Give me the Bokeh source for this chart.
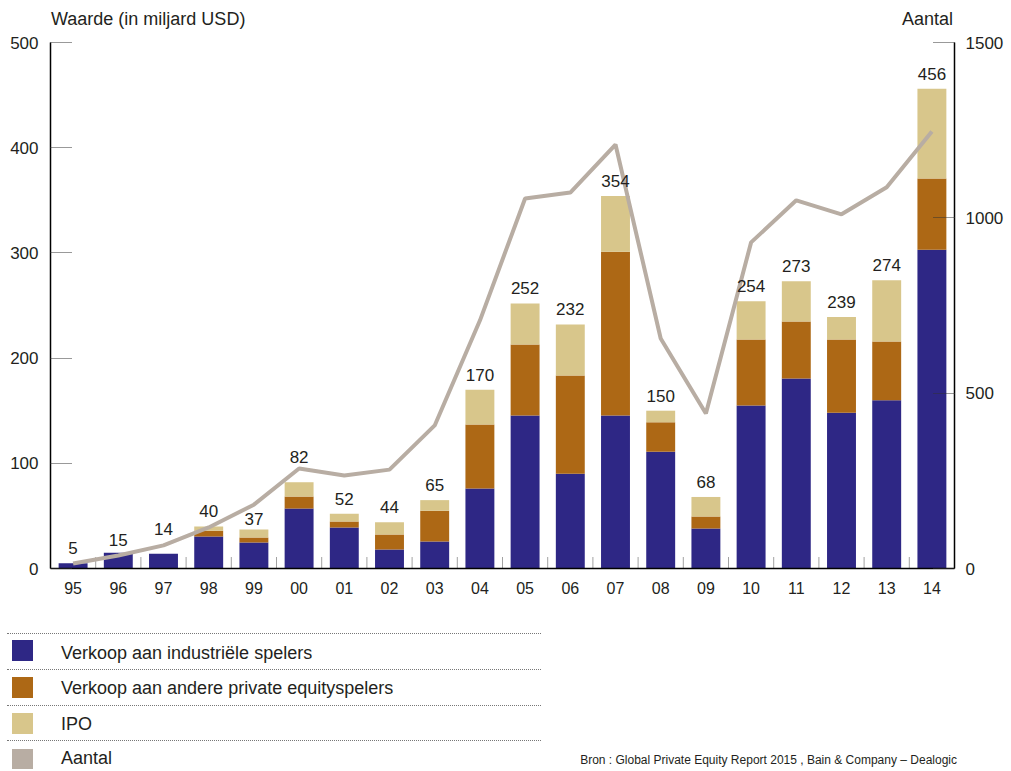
import numpy as np
from bokeh.plotting import figure
from bokeh.models import ColumnDataSource, Range1d, LinearAxis, FixedTicker, Div
from bokeh.layouts import column
from bokeh.embed import file_html
from bokeh.resources import INLINE
from bokeh.core.properties import value

# ---------------- data ----------------
years = ["95", "96", "97", "98", "99", "00", "01", "02", "03", "04",
         "05", "06", "07", "08", "09", "10", "11", "12", "13", "14"]
industrial = [5, 15, 14, 30.5, 24.7, 57, 39, 18, 25.7, 76,
              145.4, 90, 145.4, 111, 38, 155, 180.6, 148, 160, 303]
private_equity = [0, 0, 0, 5.5, 4.8, 11.4, 5.7, 14.3, 29.3, 61,
                  67.6, 93.5, 155.6, 28, 11.4, 62.7, 54.2, 69.7, 55.8, 67.7]
ipo = [0, 0, 0, 4, 7.5, 13.6, 7.3, 11.7, 10, 33,
       39, 48.5, 53, 11, 18.6, 36.3, 38.2, 21.3, 58.2, 85.3]
totals = [5, 15, 14, 40, 37, 82, 52, 44, 65, 170,
          252, 232, 354, 150, 68, 254, 273, 239, 274, 456]
count = [14, 37, 66, 117, 182, 285, 265, 282, 408, 707,
         1055, 1072, 1209, 656, 442, 930, 1050, 1010, 1087, 1246]

series_names = ["Verkoop aan industriële spelers",
                "Verkoop aan andere private equityspelers",
                "IPO", "Aantal"]
left_title = "Waarde (in miljard USD)"
right_title = "Aantal"
source_note = "Bron : Global Private Equity Report 2015 , Bain & Company \u2013 Dealogic"

# ---------------- styles ----------------
FONT = "Liberation Sans"
C_BLUE = "#2E2785"
C_BROWN = "#AD6815"
C_TAN = "#D8C68B"
C_LINE = "#B8ADA3"
C_TEXT = "#231F20"
label_nudge = {"96": 2, "97": -10, "99": 4, "00": -10}  # px adjustments of value labels

n = len(years)
xc = np.arange(n) + 0.5

src = ColumnDataSource(dict(
    x=xc, ind=industrial, pe=private_equity, ipo=ipo,
    tot=totals, lab=[str(t) for t in totals], cnt=count,
    dy=[-15 + label_nudge.get(y, 0) for y in years],
))

W = 1011

# ---------------- top titles ----------------
top = Div(width=W, height=34, margin=0, text=(
    f'<div style="position:relative;width:{W}px;height:34px;overflow:hidden;'
    f'font-family:\'{FONT}\';color:{C_TEXT};font-size:18px;line-height:22px;">'
    f'<span style="position:absolute;left:51px;top:8px;white-space:nowrap;">{left_title}</span>'
    f'<span style="position:absolute;right:58px;top:8px;white-space:nowrap;">{right_title}</span>'
    '</div>'))

# ---------------- main chart ----------------
p = figure(width=W, height=579, output_backend="svg", toolbar_location=None,
           x_range=Range1d(0, n), y_range=Range1d(0, 500),
           min_border_left=50, min_border_right=57, min_border_top=8,
           min_border_bottom=45, outline_line_color=None,
           background_fill_color="white", border_fill_color="white", margin=0)
p.extra_y_ranges = {"cnt": Range1d(0, 1500)}
p.grid.visible = False
p.xaxis.visible = False
p.yaxis.visible = False


def style_axis(ax, ticks, standoff):
    ax.ticker = FixedTicker(ticks=ticks)
    ax.axis_line_color = "black"
    ax.axis_line_width = 1.5
    ax.major_tick_in = 22
    ax.major_tick_out = 0
    ax.major_tick_line_dash = "1 1"
    ax.major_tick_line_color = "#333333"
    ax.major_tick_line_width = 1
    ax.minor_tick_line_color = None
    ax.major_label_text_font = FONT
    ax.major_label_text_font_size = "17px"
    ax.major_label_text_color = C_TEXT
    ax.major_label_standoff = standoff


yl = LinearAxis()
style_axis(yl, [0, 100, 200, 300, 400, 500], 12)
p.add_layout(yl, "left")

yr = LinearAxis(y_range_name="cnt")
style_axis(yr, [0, 500, 1000, 1500], 11)
p.add_layout(yr, "right")

xa = LinearAxis()
xa.ticker = FixedTicker(ticks=list(xc))
xa.major_label_overrides = {float(v): y for v, y in zip(xc, years)}
xa.axis_line_color = "black"
xa.axis_line_width = 1.5
xa.major_tick_line_color = None
xa.minor_tick_line_color = None
xa.major_label_text_font = FONT
xa.major_label_text_font_size = "16px"
xa.major_label_text_color = C_TEXT
xa.major_label_standoff = 7
p.add_layout(xa, "below")

# bars
p.vbar_stack(["ind", "pe", "ipo"], x="x", width=0.64, source=src,
             color=[C_BLUE, C_BROWN, C_TAN], line_color=None)

# category separators
bounds = np.arange(0, n + 1)
p.segment(x0=bounds, y0=np.zeros(n + 1), x1=bounds, y1=np.full(n + 1, 10.5),
          line_color="#444444", line_width=1, line_dash="1 1")

# line
p.line(x="x", y="cnt", source=src, y_range_name="cnt",
       line_color=C_LINE, line_width=4)

# value labels
p.text(x="x", y="tot", text="lab", source=src, y_offset="dy",
       text_align="center", text_baseline="middle",
       text_font=value(FONT), text_font_size="17px", text_color=C_TEXT)

# ---------------- legend ----------------
sw_colors = [C_BLUE, C_BROWN, C_TAN, C_LINE]
sep_top = [20, 56, 92, 127]
sw_top = [27, 64, 100, 136]
txt_mid = [40, 75, 111, 145]
parts = [f'<div style="position:relative;width:{W}px;height:156px;overflow:hidden;'
         f'font-family:\'{FONT}\';color:{C_TEXT};">']
for s in sep_top:
    parts.append(f'<div style="position:absolute;left:7px;top:{s}px;width:534px;height:0;'
                 'border-top:1px dotted #777;"></div>')
for t, c in zip(sw_top, sw_colors):
    parts.append(f'<div style="position:absolute;left:12px;top:{t}px;width:21px;height:21px;'
                 f'background:{c};"></div>')
for m, name in zip(txt_mid, series_names):
    parts.append(f'<span style="position:absolute;left:61px;top:{m - 11}px;font-size:18px;'
                 f'line-height:22px;white-space:nowrap;">{name}</span>')
parts.append(f'<span style="position:absolute;right:54px;top:140px;font-size:12px;'
             f'line-height:14px;white-space:nowrap;">{source_note}</span>')
parts.append('</div>')
legend = Div(width=W, height=156, margin=0, text="".join(parts))

layout = column(top, p, legend, spacing=0)
open("out.html", "w").write(file_html(layout, INLINE))
